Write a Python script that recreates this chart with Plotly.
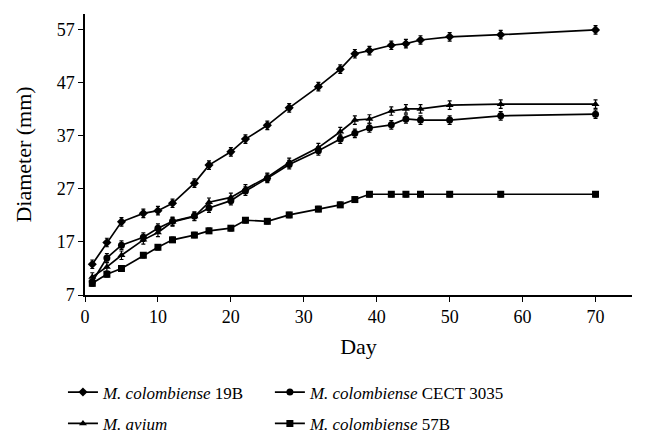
import plotly.graph_objects as go

days = [1, 3, 5, 8, 10, 12, 15, 17, 20, 22, 25, 28, 32, 35, 37, 39, 42, 44, 46, 50, 57, 70]

m19b = [12.8, 16.9, 20.8, 22.4, 22.9, 24.3, 28.1, 31.5, 34.0, 36.4, 39.0, 42.3, 46.3, 49.6, 52.5, 53.1, 54.1, 54.4, 55.1, 55.7, 56.1, 57.0]
cect = [9.5, 14.0, 16.4, 17.9, 19.6, 20.9, 21.9, 23.4, 24.8, 26.6, 29.0, 31.6, 34.2, 36.4, 37.5, 38.5, 39.1, 40.2, 40.0, 40.0, 40.8, 41.1]
avium = [10.4, 12.3, 14.5, 17.4, 18.8, 20.8, 21.8, 24.5, 25.4, 27.0, 29.2, 32.0, 34.8, 37.8, 40.0, 40.2, 41.7, 42.1, 42.1, 42.8, 43.0, 43.0]
m57b = [9.2, 10.9, 12.0, 14.5, 16.0, 17.4, 18.3, 19.1, 19.6, 21.1, 20.9, 22.1, 23.2, 24.0, 25.0, 26.0, 26.0, 26.0, 26.0, 26.0, 26.0, 26.0]

err19b = [0.8] * len(days)
errcect = [0.8] * len(days)
erravium = [0.8] * len(days)
err57b = [0.5] * len(days)

series = [
    ("<i>M. colombiense</i> 19B", m19b, err19b, "diamond", "legend"),
    ("<i>M. colombiense</i> CECT 3035", cect, errcect, "circle", "legend2"),
    ("<i>M. avium</i>", avium, erravium, "triangle-up", "legend3"),
    ("<i>M. colombiense</i> 57B", m57b, err57b, "square", "legend4"),
]

font_family = "Liberation Serif, DejaVu Serif, serif"

fig = go.Figure()
for name, ys, es, sym, lg in series:
    fig.add_trace(go.Scatter(
        x=days, y=ys, name=name, mode="lines+markers", legend=lg,
        line=dict(color="black", width=1.7),
        marker=dict(symbol=sym, size=7, color="black"),
        error_y=dict(type="data", array=es, visible=True, color="black", thickness=1.2, width=2),
    ))

def leg(x, y):
    return dict(
        orientation="h", x=x, y=y, xanchor="left", yanchor="middle",
        font=dict(size=17, family=font_family), bgcolor="rgba(0,0,0,0)",
    )

# page has an 8px body margin, so margins are offset to compensate
fig.update_layout(
    width=646, height=443,
    margin=dict(l=77, r=22, t=6, b=156),
    paper_bgcolor="white", plot_bgcolor="white",
    font=dict(family=font_family, size=18, color="black"),
    showlegend=True,
    legend=leg(-0.0403, -0.347),
    legend2=leg(0.338, -0.347),
    legend3=leg(-0.0403, -0.4585),
    legend4=leg(0.338, -0.4585),
)
fig.update_xaxes(
    range=[0, 75], tickvals=[0, 10, 20, 30, 40, 50, 60, 70], automargin=False,
    showline=True, linecolor="black", linewidth=1.5,
    ticks="outside", ticklen=5, tickcolor="black", showgrid=False, zeroline=False,
    title=dict(text="Day", standoff=12),
)
fig.update_yaxes(
    range=[7, 60], tickvals=[7, 17, 27, 37, 47, 57], automargin=False,
    showline=True, linecolor="black", linewidth=1.5,
    ticks="outside", ticklen=5, tickcolor="black", showgrid=False, zeroline=False,
    title=dict(text="Diameter (mm)", standoff=19),
)

fig.write_html("out.html")
